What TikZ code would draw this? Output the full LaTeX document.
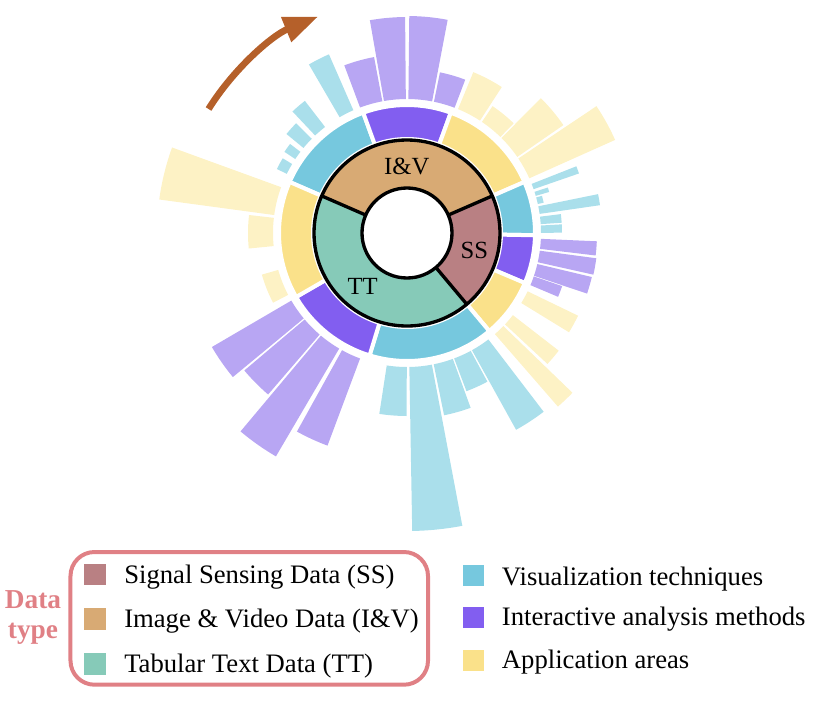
\documentclass[tikz,border=0pt]{standalone}
\usepackage{fontspec}
\setmainfont{Liberation Serif}
\usetikzlibrary{arrows.meta}
\definecolor{sscol}{RGB}{185,128,131}
\definecolor{ivcol}{RGB}{216,170,116}
\definecolor{ttcol}{RGB}{134,202,184}
\definecolor{viscol}{RGB}{118,200,222}
\definecolor{vislight}{RGB}{170,223,235}
\definecolor{intcol}{RGB}{130,94,240}
\definecolor{intlight}{RGB}{184,166,243}
\definecolor{appcol}{RGB}{250,225,138}
\definecolor{applight}{RGB}{253,242,197}
\definecolor{arrowcol}{RGB}{181,96,42}
\definecolor{legendcol}{RGB}{224,128,133}

\tikzset{
    legbox/.style={minimum size=16pt, inner sep=0pt},
    legtext/.style={anchor=base west, inner sep=0pt, font=\fontsize{20}{22}\selectfont},
    legtitle/.style={align=center, inner sep=0pt, text=legendcol, font=\fontsize{20.5}{22.5}\selectfont\bfseries},
    ringlabel/.style={font=\fontsize{18.5}{20}\selectfont}
}

\begin{document}
\begin{tikzpicture}[x=0.75pt, y=0.75pt]
    \useasboundingbox (-407,-471) rectangle (409,233);

    % outer bars
    \foreach \c/\a/\b/\r in {
        vislight/113.6/120.2/195, vislight/127.7/133.3/167, vislight/135.3/140.6/156,
        vislight/142.7/146.5/147, vislight/149/153.8/145,
        vislight/19.1/21.5/182, vislight/16.1/17.9/148, vislight/12.5/15.4/140,
        vislight/8.2/11.5/195, vislight/3.8/7/155, vislight/0.1/3.2/155,
        vislight/-90.1/-98.7/183, vislight/-79.3/-89/298, vislight/-70/-78.5/186,
        vislight/-61.6/-69.4/169, vislight/-52.6/-61/225,
        intlight/100.6/110.5/179, intlight/90.5/99.9/216, intlight/79.2/89.4/217, intlight/69.2/78.4/164,
        intlight/-2.5/-6.8/190, intlight/-7.6/-12.6/191, intlight/-13.4/-18.6/190, intlight/-18.9/-22.9/164,
        intlight/-110.5/-119/227, intlight/-120.4/-130/259, intlight/-130.7/-139.8/213, intlight/-140.4/-149.7/226,
        applight/57/67.6/174, applight/45.8/56/153, applight/34.6/45.2/190, applight/24.1/33.8/228,
        applight/-25.8/-31.5/190, applight/-37.8/-43/192, applight/-44/-49/230,
        applight/-152.5/-164/151, applight/173.5/185.6/159, applight/160/172.3/250}
        \fill[\c] (\a:134) arc[start angle=\a, end angle=\b, radius=134] -- (\b:\r)
            arc[start angle=\b, end angle=\a, radius=\r] -- cycle;

    % middle ring
    \foreach \c/\a/\b in {viscol/110/156.5, intcol/70/110, appcol/23.5/70,
        viscol/-1/23.5, intcol/-23/-1, appcol/-50/-23,
        viscol/-107/-50, intcol/-150/-107, appcol/-203.5/-150}
        \filldraw[fill=\c, draw=white, line width=3pt] (\a:94) arc[start angle=\a, end angle=\b, radius=94]
            -- (\b:128) arc[start angle=\b, end angle=\a, radius=128] -- cycle;

    % data type ring
    \foreach \c/\a/\b in {ivcol/23.5/156.5, sscol/-50/23.5, ttcol/156.5/310}
        \fill[\c] (\a:45) arc[start angle=\a, end angle=\b, radius=45]
            -- (\b:93) arc[start angle=\b, end angle=\a, radius=93] -- cycle;
    \draw[line width=2.5pt] (0,0) circle[radius=45] (0,0) circle[radius=93];
    \foreach \a in {23.5,156.5,-50}
        \draw[line width=2.5pt] (\a:45) -- (\a:93);

    \node[ringlabel] (iv) at (-0.3,67) {I\&V};
    \node[ringlabel] (ss) at (67.3,-17.7) {SS};
    \node[ringlabel] (tt) at (-44.3,-53.7) {TT};

    % direction
    \draw[arrowcol, line width=5pt, -{Triangle[length=26pt, width=19pt]}]
        (148:234) arc[start angle=148, end angle=112.3, radius=234];

    % legend
    \draw[legendcol, line width=3pt, rounded corners=18pt] (-336.5,-319) rectangle (21,-451.7);
    \node[legtitle] (dtype) at (-374,-384) {Data\\type};

    \node[legbox, fill=sscol] (ssbox) at (-312,-341.5) {};
    \node[legbox, fill=ivcol] (ivbox) at (-312,-386) {};
    \node[legbox, fill=ttcol] (ttbox) at (-312,-431) {};
    \node[legtext] (sstext) at (-283,-350.3) {Signal Sensing Data (SS)};
    \node[legtext] (ivtext) at (-283,-394.3) {Image \& Video Data (I\&V)};
    \node[legtext] (tttext) at (-283,-439.7) {Tabular Text Data (TT)};

    \node[legbox, fill=viscol] (visbox) at (66.8,-342.8) {};
    \node[legbox, fill=intcol] (intbox) at (66.8,-384.5) {};
    \node[legbox, fill=appcol] (appbox) at (66.8,-427.5) {};
    \node[legtext] (vistext) at (94.7,-352) {Visualization techniques};
    \node[legtext] (inttext) at (94.7,-392) {Interactive analysis methods};
    \node[legtext] (apptext) at (94.7,-435.3) {Application areas};
\end{tikzpicture}
\end{document}
